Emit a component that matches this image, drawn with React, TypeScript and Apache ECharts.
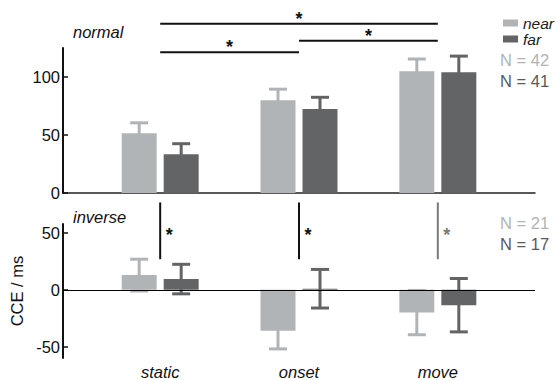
import React, { useEffect, useRef } from 'react';
import * as echarts from 'echarts';

const categories = ['static', 'onset', 'move'];
const catPos = [1, 2, 3];

const normalNear = [51.5, 80, 105];
const normalNearErr = [9, 9.5, 10.5];
const normalFar = [33.5, 72.5, 104];
const normalFarErr = [9, 10, 14];

const inverseNear = [13, -36, -20];
const inverseNearErr = [14, 16, 19.5];
const inverseFar = [9.5, 1, -13.5];
const inverseFarErr = [13, 17, 23.5];

const topTicks = [0, 50, 100];
const bottomTicks = [-50, 0, 50];

// significance brackets in the "normal" panel: [from category, to category, level]
const topBrackets = [
  [1, 3, 146],
  [2, 3, 131.3],
  [1, 2, 121.3],
];
// significance markers in the "inverse" panel: [category, low, high, star level]
const bottomSig = [
  [1, 27, 77, 51.5],
  [2, 27, 77, 51.5],
  [3, 27, 77, 51.5],
];
const bottomSigColors = ['#111111', '#111111', '#7a7a7a'];

const NEAR = '#b1b4b6';
const FAR = '#636466';
const FONT = 'Liberation Sans, Arial, sans-serif';

const BAR_W = 35;
const OFFSET = 21;

function errorSeries(xAxisIndex: number, yAxisIndex: number, means: number[], errs: number[], color: string, offset: number) {
  return {
    type: 'custom',
    xAxisIndex,
    yAxisIndex,
    z: 1,
    silent: true,
    data: catPos.map((p, i) => [p, means[i], errs[i]]),
    renderItem: (_params: any, api: any) => {
      const x = api.value(0);
      const m = api.value(1);
      const e = api.value(2);
      const top = api.coord([x, m + e]);
      const bot = api.coord([x, m - e]);
      const cx = top[0] + offset;
      const st = { stroke: color, lineWidth: 3 };
      return {
        type: 'group',
        children: [
          { type: 'line', shape: { x1: cx, y1: top[1], x2: cx, y2: bot[1] }, style: st },
          { type: 'line', shape: { x1: cx - 9, y1: top[1], x2: cx + 9, y2: top[1] }, style: st },
          { type: 'line', shape: { x1: cx - 9, y1: bot[1], x2: cx + 9, y2: bot[1] }, style: st },
        ],
      };
    },
  };
}

export default function App() {
  const ref = useRef<HTMLDivElement>(null);
  useEffect(() => {
    if (!ref.current) return;
    const chart = echarts.init(ref.current, undefined, { renderer: 'svg' });
    const xBase = {
      type: 'value',
      min: 0.3,
      max: 3.7,
      splitLine: { show: false },
      axisTick: { show: false },
    };
    const option: any = {
      animation: false,
      textStyle: { fontFamily: FONT },
      grid: [
        { left: 63, right: 21, top: 48, height: 145 },
        { left: 63, right: 21, top: 224, height: 136 },
      ],
      xAxis: [
        {
          ...xBase,
          gridIndex: 0,
          axisLine: { show: true, onZero: false, lineStyle: { color: '#222', width: 1.5 } },
          axisLabel: { show: false },
        },
        {
          ...xBase,
          gridIndex: 1,
          axisLine: { show: false, onZero: false },
          axisLabel: {
            show: true,
            customValues: catPos,
            formatter: (v: number) => categories[Math.round(v) - 1] || '',
            fontSize: 16.5,
            fontStyle: 'italic',
            color: '#111',
            fontFamily: FONT,
            margin: 5,
          },
        },
      ],
      yAxis: [
        {
          type: 'value',
          gridIndex: 0,
          min: 0,
          max: 125,
          splitLine: { show: false },
          axisLine: { show: true, lineStyle: { color: '#111', width: 2 } },
          axisTick: { show: true, inside: true, length: 5, customValues: topTicks, lineStyle: { color: '#111', width: 1.5 } },
          axisLabel: { customValues: topTicks, fontSize: 16.5, color: '#111', fontFamily: FONT, margin: 3 },
        },
        {
          type: 'value',
          gridIndex: 1,
          min: -60,
          max: 58,
          splitLine: { show: false },
          axisLine: { show: true, lineStyle: { color: '#111', width: 2 } },
          axisTick: { show: true, inside: true, length: 5, customValues: bottomTicks, lineStyle: { color: '#111', width: 1.5 } },
          axisLabel: { customValues: bottomTicks, fontSize: 16.5, color: '#111', fontFamily: FONT, margin: 3 },
          name: 'CCE / ms',
          nameLocation: 'middle',
          nameGap: 33,
          nameTextStyle: { fontSize: 16.5, color: '#111', fontFamily: FONT },
        },
      ],
      legend: {
        data: ['near', 'far'],
        orient: 'vertical',
        left: 498,
        top: 10,
        icon: 'rect',
        itemWidth: 15,
        itemHeight: 7,
        itemGap: 0,
        textStyle: { fontSize: 15.5, lineHeight: 16, fontStyle: 'italic', color: '#222', fontFamily: FONT },
      },
      graphic: [
        { type: 'text', left: 73, top: 23, style: { text: 'normal', font: `italic 16.5px ${FONT}`, fill: '#111' } },
        { type: 'text', left: 73, top: 208, style: { text: 'inverse', font: `italic 16.5px ${FONT}`, fill: '#111' } },
        { type: 'text', left: 500, top: 51, style: { text: 'N = 42', font: `16.5px ${FONT}`, fill: NEAR } },
        { type: 'text', left: 500, top: 72, style: { text: 'N = 41', font: `16.5px ${FONT}`, fill: '#58595b' } },
        { type: 'text', left: 500, top: 214, style: { text: 'N = 21', font: `16.5px ${FONT}`, fill: NEAR } },
        { type: 'text', left: 500, top: 235, style: { text: 'N = 17', font: `16.5px ${FONT}`, fill: '#58595b' } },
      ],
      series: [
        errorSeries(0, 0, normalNear, normalNearErr, NEAR, -OFFSET),
        errorSeries(0, 0, normalFar, normalFarErr, FAR, OFFSET),
        errorSeries(1, 1, inverseNear, inverseNearErr, NEAR, -OFFSET),
        errorSeries(1, 1, inverseFar, inverseFarErr, FAR, OFFSET),
        {
          name: 'near', type: 'bar', xAxisIndex: 0, yAxisIndex: 0, z: 2,
          barWidth: BAR_W, barGap: '20%',
          itemStyle: { color: NEAR },
          data: catPos.map((p, i) => [p, normalNear[i]]),
        },
        {
          name: 'far', type: 'bar', xAxisIndex: 0, yAxisIndex: 0, z: 2,
          barWidth: BAR_W, barGap: '20%',
          itemStyle: { color: FAR },
          data: catPos.map((p, i) => [p, normalFar[i]]),
        },
        {
          name: 'near', type: 'bar', xAxisIndex: 1, yAxisIndex: 1, z: 2,
          barWidth: BAR_W, barGap: '20%',
          itemStyle: { color: NEAR },
          data: catPos.map((p, i) => [p, inverseNear[i]]),
          markLine: {
            silent: true,
            symbol: ['none', 'none'],
            label: { show: false },
            lineStyle: { color: '#000', width: 1, type: 'solid' },
            data: [{ yAxis: 0 }],
          },
        },
        {
          name: 'far', type: 'bar', xAxisIndex: 1, yAxisIndex: 1, z: 2,
          barWidth: BAR_W, barGap: '20%',
          itemStyle: { color: FAR },
          data: catPos.map((p, i) => [p, inverseFar[i]]),
        },
        {
          type: 'custom', xAxisIndex: 0, yAxisIndex: 0, z: 3, silent: true, clip: false,
          data: topBrackets,
          renderItem: (_params: any, api: any) => {
            const a = api.coord([api.value(0), api.value(2)]);
            const b = api.coord([api.value(1), api.value(2)]);
            return {
              type: 'group',
              children: [
                { type: 'line', shape: { x1: a[0], y1: a[1], x2: b[0], y2: b[1] }, style: { stroke: '#111', lineWidth: 2 } },
                {
                  type: 'text',
                  style: { x: (a[0] + b[0]) / 2, y: a[1] - 5, text: '*', font: `bold 18px ${FONT}`, fill: '#111', align: 'center', verticalAlign: 'middle' },
                },
              ],
            };
          },
        },
        {
          type: 'custom', xAxisIndex: 1, yAxisIndex: 1, z: 3, silent: true, clip: false,
          data: bottomSig,
          renderItem: (params: any, api: any) => {
            const lo = api.coord([api.value(0), api.value(1)]);
            const hi = api.coord([api.value(0), api.value(2)]);
            const s = api.coord([api.value(0), api.value(3)]);
            const color = bottomSigColors[params.dataIndex];
            return {
              type: 'group',
              children: [
                { type: 'line', shape: { x1: lo[0], y1: lo[1], x2: hi[0], y2: hi[1] }, style: { stroke: color, lineWidth: 2 } },
                {
                  type: 'text',
                  style: { x: s[0] + 9, y: s[1] + 4, text: '*', font: `bold 18px ${FONT}`, fill: color, align: 'center', verticalAlign: 'middle' },
                },
              ],
            };
          },
        },
      ],
    };
    chart.setOption(option);
    return () => chart.dispose();
  }, []);
  return <div ref={ref} style={{ width: 556, height: 380, position: 'absolute', left: 0, top: 0 }} />;
}
